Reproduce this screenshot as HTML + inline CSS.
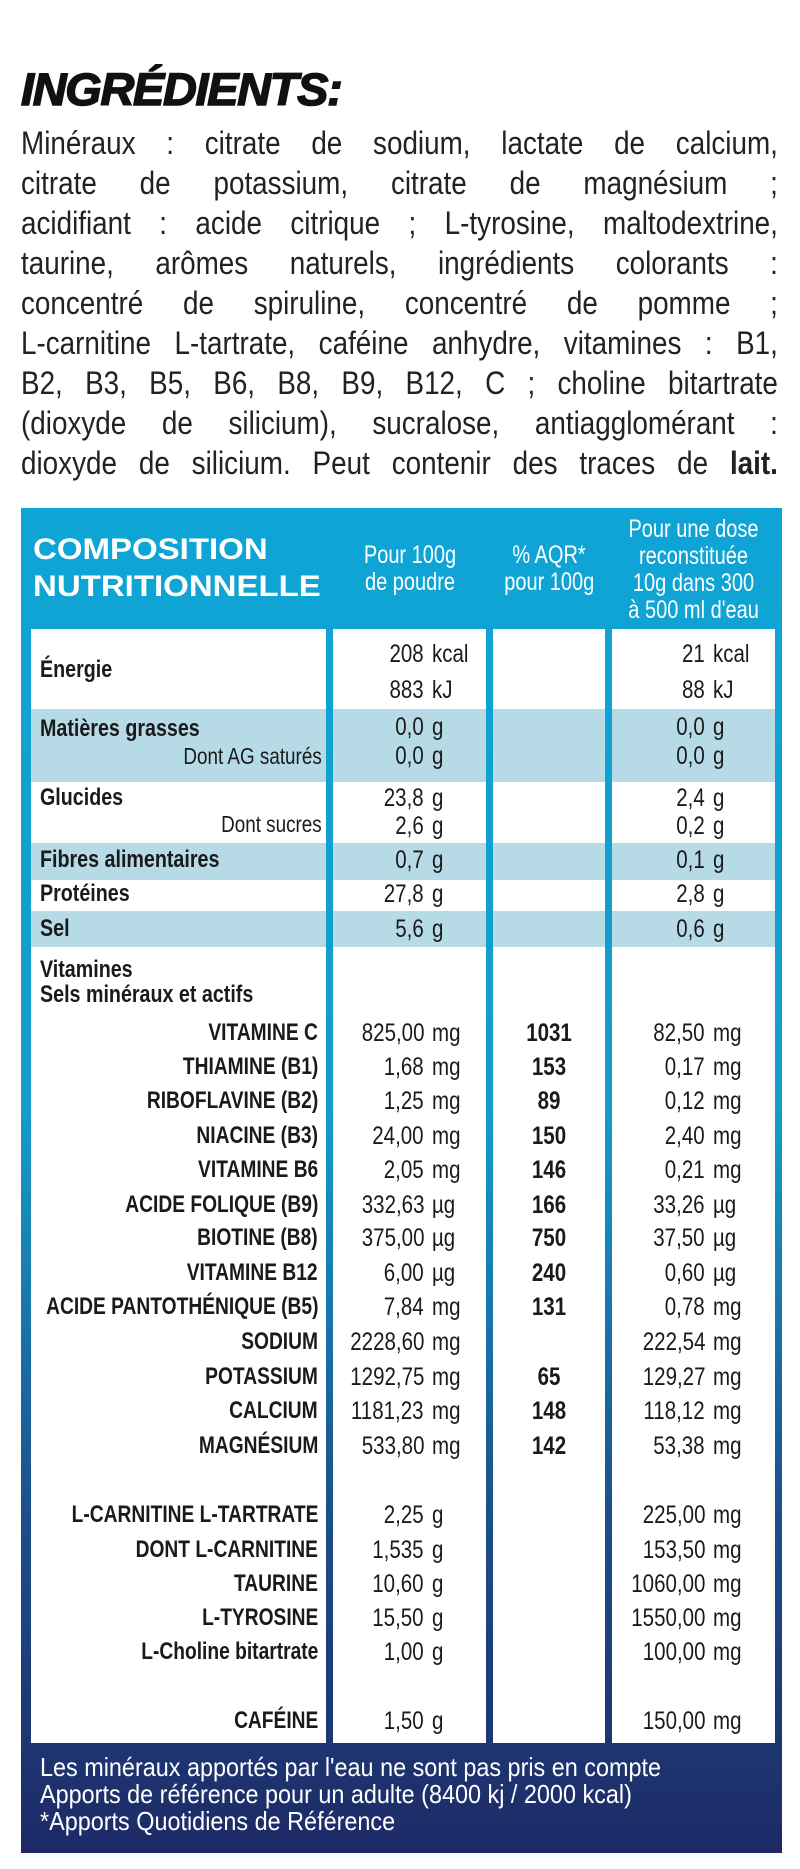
<!DOCTYPE html>
<html><head><meta charset="utf-8"><style>
*{margin:0;padding:0;box-sizing:border-box}
body{width:800px;height:1869px;background:#fff;position:relative;overflow:hidden;font-family:"Liberation Sans",sans-serif;color:#1a1a1a}
.a{position:absolute;white-space:nowrap;line-height:30px;height:30px;transform:scaleX(0.82)}
.t{position:absolute;left:21px;top:64px;font:italic 900 45px "Liberation Sans",sans-serif;letter-spacing:-1.2px;color:#111;-webkit-text-stroke:1.5px #111;transform:scaleX(1.04);transform-origin:left}
.p{position:absolute;left:21px;width:870px;font:32px "Liberation Sans",sans-serif;text-align:justify;text-align-last:justify;line-height:40px;height:40px;white-space:nowrap;color:#222;transform:scaleX(0.87);transform-origin:left}
.frame{position:absolute;left:21px;top:508px;width:761px;height:1345px;background:linear-gradient(#0ea5d6 0%,#159cc9 45%,#1c4f8a 75%,#1d2a66 100%)}
.col{position:absolute;background:#fff;top:629px;height:1114px}
.band{position:absolute;background:#b7dbe6}
.hd{position:absolute;color:#fff;font:bold 30px "Liberation Sans",sans-serif;line-height:37px;transform:scaleX(1.1);transform-origin:left}
.ch{position:absolute;color:#fff;text-align:center;font-size:25px;line-height:27px;white-space:nowrap;transform:scaleX(0.8)}
.lab{left:40px;font-size:24px;font-weight:bold;transform-origin:left}
.rl{right:482px;text-align:right;font-size:24px;font-weight:bold;transform-origin:right;transform:scaleX(0.8)}
.n2{right:376px;text-align:right;font-size:25px;transform-origin:right}
.u2{left:432px;font-size:25px;transform-origin:left}
.n4{right:95px;text-align:right;font-size:25px;transform-origin:right}
.u4{left:713px;font-size:25px;transform-origin:left}
.q{left:493px;width:112px;text-align:center;font-size:25px;font-weight:bold}
.sub{right:478px;font-size:23px;transform-origin:right}
.f{position:absolute;left:40px;color:#fff;font-size:26px;line-height:28px;white-space:nowrap;transform:scaleX(0.9);transform-origin:left}
</style></head><body>
<div class="t">INGRÉDIENTS:</div>
<div class="p" style="top:123px">Minéraux : citrate de sodium, lactate de calcium,</div>
<div class="p" style="top:163px">citrate de potassium, citrate de magnésium ;</div>
<div class="p" style="top:203px">acidifiant : acide citrique ; L-tyrosine, maltodextrine,</div>
<div class="p" style="top:243px">taurine, arômes naturels, ingrédients colorants :</div>
<div class="p" style="top:283px">concentré de spiruline, concentré de pomme ;</div>
<div class="p" style="top:323px">L-carnitine L-tartrate, caféine anhydre, vitamines : B1,</div>
<div class="p" style="top:363px">B2, B3, B5, B6, B8, B9, B12, C ; choline bitartrate</div>
<div class="p" style="top:403px">(dioxyde de silicium), sucralose, antiagglomérant :</div>
<div class="p" style="top:443px">dioxyde de silicium. Peut contenir des traces de <b>lait.</b></div>

<div class="frame"></div>
<div class="col" style="left:31px;width:295px"></div>
<div class="col" style="left:333px;width:153px"></div>
<div class="col" style="left:493px;width:112px"></div>
<div class="col" style="left:612px;width:163px"></div>
<div class="band" style="left:31px;width:295px;top:709px;height:73px"></div>
<div class="band" style="left:333px;width:153px;top:709px;height:73px"></div>
<div class="band" style="left:493px;width:112px;top:709px;height:73px"></div>
<div class="band" style="left:612px;width:163px;top:709px;height:73px"></div>
<div class="band" style="left:31px;width:295px;top:843px;height:37px"></div>
<div class="band" style="left:333px;width:153px;top:843px;height:37px"></div>
<div class="band" style="left:493px;width:112px;top:843px;height:37px"></div>
<div class="band" style="left:612px;width:163px;top:843px;height:37px"></div>
<div class="band" style="left:31px;width:295px;top:911px;height:36px"></div>
<div class="band" style="left:333px;width:153px;top:911px;height:36px"></div>
<div class="band" style="left:493px;width:112px;top:911px;height:36px"></div>
<div class="band" style="left:612px;width:163px;top:911px;height:36px"></div>

<div class="hd" style="left:33px;top:531px">COMPOSITION<br>NUTRITIONNELLE</div>
<div class="ch" style="left:340px;width:140px;top:542px">Pour 100g<br>de poudre</div>
<div class="ch" style="left:493px;width:112px;top:542px">% AQR*<br>pour 100g</div>
<div class="ch" style="left:612px;width:163px;top:516px">Pour une dose<br>reconstituée<br>10g dans 300<br>à 500 ml d'eau</div>

<div class="a lab" style="top:655px">Énergie</div>
<div class="a n2" style="top:639px">208</div><div class="a u2" style="top:639px">kcal</div>
<div class="a n2" style="top:675px">883</div><div class="a u2" style="top:675px">kJ</div>
<div class="a n4" style="top:639px">21</div><div class="a u4" style="top:639px">kcal</div>
<div class="a n4" style="top:675px">88</div><div class="a u4" style="top:675px">kJ</div>

<div class="a lab" style="top:714px">Matières grasses</div>
<div class="a sub" style="top:741px">Dont AG saturés</div>
<div class="a n2" style="top:712px">0,0</div><div class="a u2" style="top:712px">g</div>
<div class="a n2" style="top:741px">0,0</div><div class="a u2" style="top:741px">g</div>
<div class="a n4" style="top:712px">0,0</div><div class="a u4" style="top:712px">g</div>
<div class="a n4" style="top:741px">0,0</div><div class="a u4" style="top:741px">g</div>

<div class="a lab" style="top:783px">Glucides</div>
<div class="a sub" style="top:809px">Dont sucres</div>
<div class="a n2" style="top:783px">23,8</div><div class="a u2" style="top:783px">g</div>
<div class="a n2" style="top:811px">2,6</div><div class="a u2" style="top:811px">g</div>
<div class="a n4" style="top:783px">2,4</div><div class="a u4" style="top:783px">g</div>
<div class="a n4" style="top:811px">0,2</div><div class="a u4" style="top:811px">g</div>

<div class="a lab" style="top:845px">Fibres alimentaires</div>
<div class="a n2" style="top:845px">0,7</div><div class="a u2" style="top:845px">g</div>
<div class="a n4" style="top:845px">0,1</div><div class="a u4" style="top:845px">g</div>
<div class="a lab" style="top:879px">Protéines</div>
<div class="a n2" style="top:879px">27,8</div><div class="a u2" style="top:879px">g</div>
<div class="a n4" style="top:879px">2,8</div><div class="a u4" style="top:879px">g</div>
<div class="a lab" style="top:914px">Sel</div>
<div class="a n2" style="top:914px">5,6</div><div class="a u2" style="top:914px">g</div>
<div class="a n4" style="top:914px">0,6</div><div class="a u4" style="top:914px">g</div>

<div class="a lab" style="top:955px">Vitamines</div>
<div class="a lab" style="top:980px">Sels minéraux et actifs</div>

<div class="a rl" style="top:1018px">VITAMINE C</div><div class="a n2" style="top:1018px">825,00</div><div class="a u2" style="top:1018px">mg</div><div class="a q" style="top:1018px">1031</div><div class="a n4" style="top:1018px">82,50</div><div class="a u4" style="top:1018px">mg</div>
<div class="a rl" style="top:1052px">THIAMINE (B1)</div><div class="a n2" style="top:1052px">1,68</div><div class="a u2" style="top:1052px">mg</div><div class="a q" style="top:1052px">153</div><div class="a n4" style="top:1052px">0,17</div><div class="a u4" style="top:1052px">mg</div>
<div class="a rl" style="top:1086px">RIBOFLAVINE (B2)</div><div class="a n2" style="top:1086px">1,25</div><div class="a u2" style="top:1086px">mg</div><div class="a q" style="top:1086px">89</div><div class="a n4" style="top:1086px">0,12</div><div class="a u4" style="top:1086px">mg</div>
<div class="a rl" style="top:1121px">NIACINE (B3)</div><div class="a n2" style="top:1121px">24,00</div><div class="a u2" style="top:1121px">mg</div><div class="a q" style="top:1121px">150</div><div class="a n4" style="top:1121px">2,40</div><div class="a u4" style="top:1121px">mg</div>
<div class="a rl" style="top:1155px">VITAMINE B6</div><div class="a n2" style="top:1155px">2,05</div><div class="a u2" style="top:1155px">mg</div><div class="a q" style="top:1155px">146</div><div class="a n4" style="top:1155px">0,21</div><div class="a u4" style="top:1155px">mg</div>
<div class="a rl" style="top:1190px">ACIDE FOLIQUE (B9)</div><div class="a n2" style="top:1190px">332,63</div><div class="a u2" style="top:1190px">µg</div><div class="a q" style="top:1190px">166</div><div class="a n4" style="top:1190px">33,26</div><div class="a u4" style="top:1190px">µg</div>
<div class="a rl" style="top:1223px">BIOTINE (B8)</div><div class="a n2" style="top:1223px">375,00</div><div class="a u2" style="top:1223px">µg</div><div class="a q" style="top:1223px">750</div><div class="a n4" style="top:1223px">37,50</div><div class="a u4" style="top:1223px">µg</div>
<div class="a rl" style="top:1258px">VITAMINE B12</div><div class="a n2" style="top:1258px">6,00</div><div class="a u2" style="top:1258px">µg</div><div class="a q" style="top:1258px">240</div><div class="a n4" style="top:1258px">0,60</div><div class="a u4" style="top:1258px">µg</div>
<div class="a rl" style="top:1292px">ACIDE PANTOTHÉNIQUE (B5)</div><div class="a n2" style="top:1292px">7,84</div><div class="a u2" style="top:1292px">mg</div><div class="a q" style="top:1292px">131</div><div class="a n4" style="top:1292px">0,78</div><div class="a u4" style="top:1292px">mg</div>
<div class="a rl" style="top:1327px">SODIUM</div><div class="a n2" style="top:1327px">2228,60</div><div class="a u2" style="top:1327px">mg</div><div class="a n4" style="top:1327px">222,54</div><div class="a u4" style="top:1327px">mg</div>
<div class="a rl" style="top:1362px">POTASSIUM</div><div class="a n2" style="top:1362px">1292,75</div><div class="a u2" style="top:1362px">mg</div><div class="a q" style="top:1362px">65</div><div class="a n4" style="top:1362px">129,27</div><div class="a u4" style="top:1362px">mg</div>
<div class="a rl" style="top:1396px">CALCIUM</div><div class="a n2" style="top:1396px">1181,23</div><div class="a u2" style="top:1396px">mg</div><div class="a q" style="top:1396px">148</div><div class="a n4" style="top:1396px">118,12</div><div class="a u4" style="top:1396px">mg</div>
<div class="a rl" style="top:1431px">MAGNÉSIUM</div><div class="a n2" style="top:1431px">533,80</div><div class="a u2" style="top:1431px">mg</div><div class="a q" style="top:1431px">142</div><div class="a n4" style="top:1431px">53,38</div><div class="a u4" style="top:1431px">mg</div>

<div class="a rl" style="top:1500px">L-CARNITINE L-TARTRATE</div><div class="a n2" style="top:1500px">2,25</div><div class="a u2" style="top:1500px">g</div><div class="a n4" style="top:1500px">225,00</div><div class="a u4" style="top:1500px">mg</div>
<div class="a rl" style="top:1535px">DONT L-CARNITINE</div><div class="a n2" style="top:1535px">1,535</div><div class="a u2" style="top:1535px">g</div><div class="a n4" style="top:1535px">153,50</div><div class="a u4" style="top:1535px">mg</div>
<div class="a rl" style="top:1569px">TAURINE</div><div class="a n2" style="top:1569px">10,60</div><div class="a u2" style="top:1569px">g</div><div class="a n4" style="top:1569px">1060,00</div><div class="a u4" style="top:1569px">mg</div>
<div class="a rl" style="top:1603px">L-TYROSINE</div><div class="a n2" style="top:1603px">15,50</div><div class="a u2" style="top:1603px">g</div><div class="a n4" style="top:1603px">1550,00</div><div class="a u4" style="top:1603px">mg</div>
<div class="a rl" style="top:1637px">L-Choline bitartrate</div><div class="a n2" style="top:1637px">1,00</div><div class="a u2" style="top:1637px">g</div><div class="a n4" style="top:1637px">100,00</div><div class="a u4" style="top:1637px">mg</div>
<div class="a rl" style="top:1706px">CAFÉINE</div><div class="a n2" style="top:1706px">1,50</div><div class="a u2" style="top:1706px">g</div><div class="a n4" style="top:1706px">150,00</div><div class="a u4" style="top:1706px">mg</div>

<div class="f" style="top:1753px">Les minéraux apportés par l'eau ne sont pas pris en compte</div>
<div class="f" style="top:1780px">Apports de référence pour un adulte (8400 kj / 2000 kcal)</div>
<div class="f" style="top:1807px">*Apports Quotidiens de Référence</div>
</body></html>
